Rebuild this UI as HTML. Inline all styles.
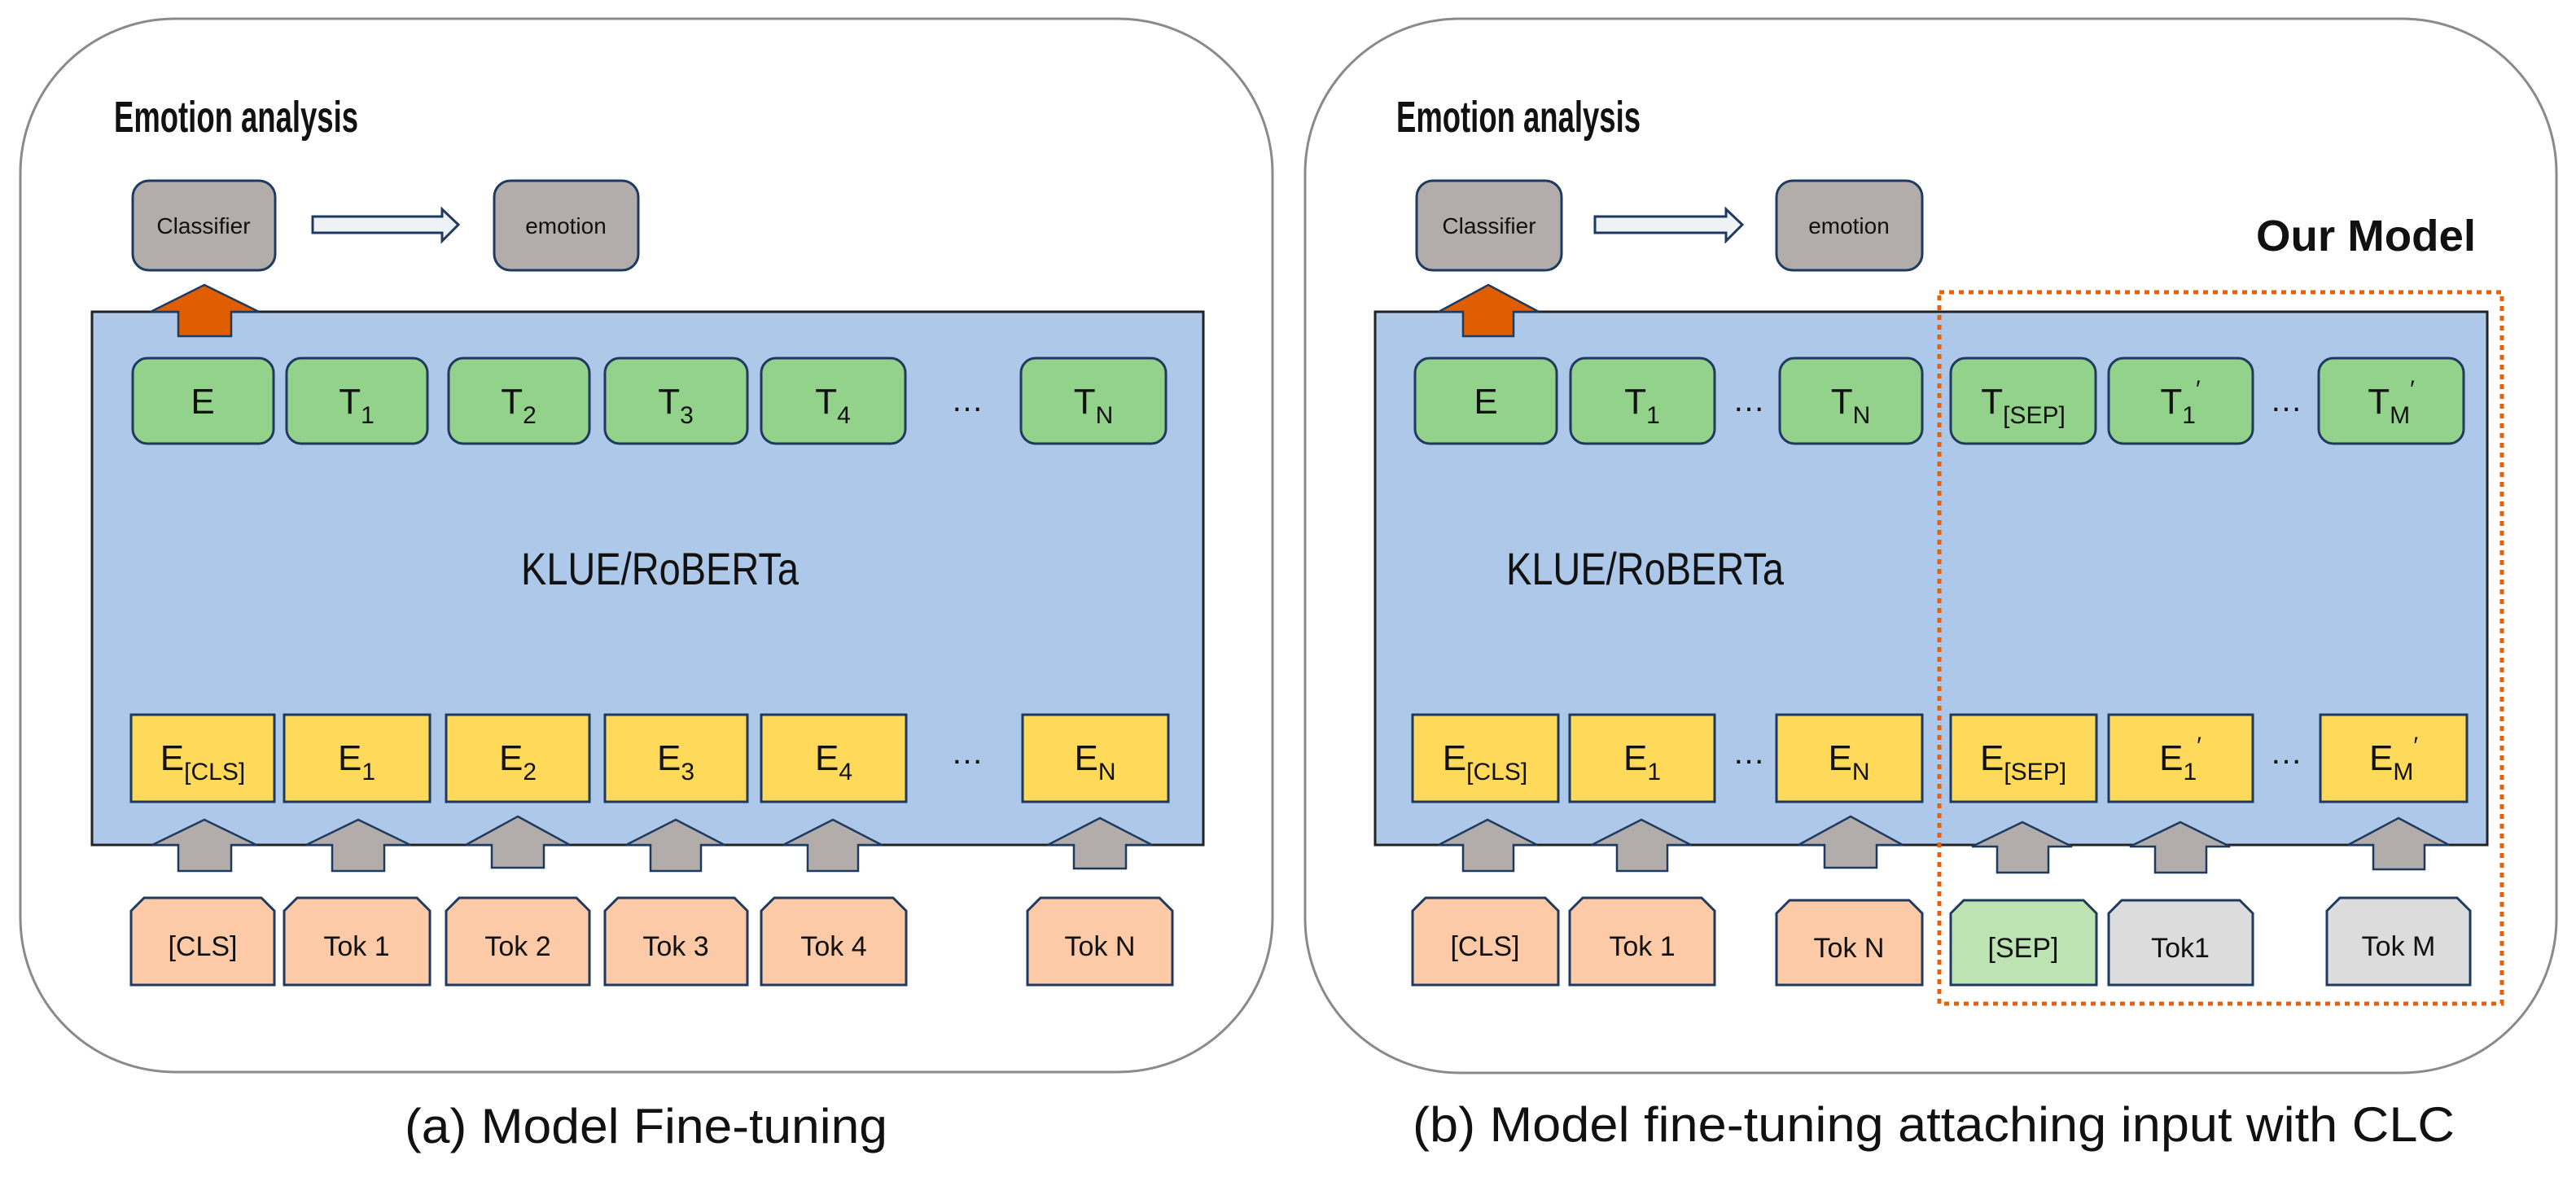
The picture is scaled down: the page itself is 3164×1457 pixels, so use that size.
<!DOCTYPE html>
<html><head><meta charset="utf-8"><style>
html,body{margin:0;padding:0;background:#fff;}
svg{display:block;}
text{font-family:"Liberation Sans Narrow","Liberation Sans",sans-serif;fill:#111;}
</style></head><body>
<svg width="3164" height="1457" viewBox="0 0 3164 1457" xmlns="http://www.w3.org/2000/svg">
<rect x="25" y="23" width="1538" height="1294" rx="190" fill="#fff" stroke="#8a8a8a" stroke-width="3"/>
<rect x="1603" y="23" width="1537" height="1295" rx="190" fill="#fff" stroke="#8a8a8a" stroke-width="3"/>

<text x="140" y="162" font-size="54" font-weight="bold" textLength="300" lengthAdjust="spacingAndGlyphs">Emotion analysis</text>
<text x="1715" y="162" font-size="54" font-weight="bold" textLength="300" lengthAdjust="spacingAndGlyphs">Emotion analysis</text>
<text x="2771" y="308" font-size="54" font-weight="bold" textLength="270" lengthAdjust="spacingAndGlyphs">Our Model</text>

<g stroke="#1f3a5f" stroke-width="3" fill="#b2adab">
<rect x="163" y="222" width="175" height="110" rx="20"/>
<rect x="607" y="222" width="177" height="110" rx="20"/>
<rect x="1740" y="222" width="178" height="110" rx="20"/>
<rect x="2182" y="222" width="179" height="110" rx="20"/>
</g>
<g font-size="28" text-anchor="middle">
<text x="250" y="287">Classifier</text>
<text x="695" y="287">emotion</text>
<text x="1829" y="287">Classifier</text>
<text x="2271" y="287">emotion</text>
</g>
<g fill="#eef1f5" stroke="#1f3a5f" stroke-width="3">
<path d="M384,266 H543 V257 L563,276 L543,296 V286 H384 Z"/>
<path d="M1959,266 H2120 V257 L2140,276 L2120,296 V286 H1959 Z"/>
</g>

<rect x="113" y="383" width="1365" height="655" fill="#adc8e9" stroke="#222" stroke-width="3"/>
<rect x="1689" y="383" width="1366" height="655" fill="#adc8e9" stroke="#222" stroke-width="3"/>

<g fill="#e05e00" stroke="#1f3a5f" stroke-width="2.5">
<path d="M251,350 L318,383 L284,383 L284,413 L219,413 L219,383 L185,383 Z"/>
<path d="M1828,350 L1890,383 L1859,383 L1859,413 L1797,413 L1797,383 L1767,383 Z"/>
</g>

<text x="640" y="718" font-size="56" textLength="341" lengthAdjust="spacingAndGlyphs">KLUE/RoBERTa</text>
<text x="1850" y="718" font-size="56" textLength="341" lengthAdjust="spacingAndGlyphs">KLUE/RoBERTa</text>

<g fill="#93d28a" stroke="#1f3a5f" stroke-width="3">
<rect x="163" y="440" width="173" height="105" rx="18"/>
<rect x="352" y="440" width="173" height="105" rx="18"/>
<rect x="551" y="440" width="173" height="105" rx="18"/>
<rect x="743" y="440" width="175" height="105" rx="18"/>
<rect x="935" y="440" width="177" height="105" rx="18"/>
<rect x="1254" y="440" width="178" height="105" rx="18"/>
<rect x="1738" y="440" width="174" height="105" rx="18"/>
<rect x="1929" y="440" width="177" height="105" rx="18"/>
<rect x="2186" y="440" width="175" height="105" rx="18"/>
<rect x="2396" y="440" width="178" height="105" rx="18"/>
<rect x="2590" y="440" width="177" height="105" rx="18"/>
<rect x="2848" y="440" width="178" height="105" rx="18"/>
</g>
<g font-size="44" text-anchor="middle">
<text x="249" y="508">E</text>
<text x="438" y="508">T<tspan font-size="30" dy="12">1</tspan></text>
<text x="637" y="508">T<tspan font-size="30" dy="12">2</tspan></text>
<text x="830" y="508">T<tspan font-size="30" dy="12">3</tspan></text>
<text x="1023" y="508">T<tspan font-size="30" dy="12">4</tspan></text>
<text x="1343" y="508">T<tspan font-size="30" dy="12">N</tspan></text>
<text x="1825" y="508">E</text>
<text x="2017" y="508">T<tspan font-size="30" dy="12">1</tspan></text>
<text x="2273" y="508">T<tspan font-size="30" dy="12">N</tspan></text>
<text x="2485" y="508">T<tspan font-size="30" dy="12">[SEP]</tspan></text>
<text x="2678" y="508">T<tspan font-size="30" dy="12">1</tspan><tspan font-size="30" dy="-32">′</tspan></text>
<text x="2937" y="508">T<tspan font-size="30" dy="12">M</tspan><tspan font-size="30" dy="-32">′</tspan></text>
</g>

<g fill="#ffd95a" stroke="#1f3a5f" stroke-width="3">
<rect x="161" y="878" width="176" height="107"/>
<rect x="349" y="878" width="179" height="107"/>
<rect x="548" y="878" width="176" height="107"/>
<rect x="743" y="878" width="175" height="107"/>
<rect x="935" y="878" width="178" height="107"/>
<rect x="1256" y="878" width="179" height="107"/>
<rect x="1735" y="878" width="179" height="107"/>
<rect x="1928" y="878" width="178" height="107"/>
<rect x="2182" y="878" width="179" height="107"/>
<rect x="2396" y="878" width="179" height="107"/>
<rect x="2590" y="878" width="177" height="107"/>
<rect x="2850" y="878" width="180" height="107"/>
</g>
<g font-size="44" text-anchor="middle">
<text x="249" y="946">E<tspan font-size="30" dy="12">[CLS]</tspan></text>
<text x="438" y="946">E<tspan font-size="30" dy="12">1</tspan></text>
<text x="636" y="946">E<tspan font-size="30" dy="12">2</tspan></text>
<text x="830" y="946">E<tspan font-size="30" dy="12">3</tspan></text>
<text x="1024" y="946">E<tspan font-size="30" dy="12">4</tspan></text>
<text x="1345" y="946">E<tspan font-size="30" dy="12">N</tspan></text>
<text x="1824" y="946">E<tspan font-size="30" dy="12">[CLS]</tspan></text>
<text x="2017" y="946">E<tspan font-size="30" dy="12">1</tspan></text>
<text x="2271" y="946">E<tspan font-size="30" dy="12">N</tspan></text>
<text x="2485" y="946">E<tspan font-size="30" dy="12">[SEP]</tspan></text>
<text x="2678" y="946">E<tspan font-size="30" dy="12">1</tspan><tspan font-size="30" dy="-32">′</tspan></text>
<text x="2940" y="946">E<tspan font-size="30" dy="12">M</tspan><tspan font-size="30" dy="-32">′</tspan></text>
</g>

<g font-size="40" text-anchor="middle">
<text x="1188" y="505">…</text>
<text x="1188" y="938">…</text>
<text x="2148" y="505">…</text>
<text x="2148" y="938">…</text>
<text x="2808" y="505">…</text>
<text x="2808" y="938">…</text>
</g>

<g fill="#b2adab" stroke="#1f3a5f" stroke-width="2.5">
<path d="M251,1007 L315,1038 L284,1038 L284,1070 L219,1070 L219,1038 L187,1038 Z"/>
<path d="M440,1007 L504,1038 L472,1038 L472,1070 L408,1070 L408,1038 L376,1038 Z"/>
<path d="M636,1003 L700,1038 L668,1038 L668,1066 L604,1066 L604,1038 L572,1038 Z"/>
<path d="M830,1007 L890,1038 L861,1038 L861,1070 L799,1070 L799,1038 L769,1038 Z"/>
<path d="M1023,1007 L1083,1038 L1054,1038 L1054,1070 L992,1070 L992,1038 L962,1038 Z"/>
<path d="M1351,1005 L1415,1038 L1383,1038 L1383,1067 L1319,1067 L1319,1038 L1287,1038 Z"/>
<path d="M1827,1007 L1888,1038 L1859,1038 L1859,1070 L1797,1070 L1797,1038 L1767,1038 Z"/>
<path d="M2016,1007 L2077,1038 L2048,1038 L2048,1070 L1986,1070 L1986,1038 L1955,1038 Z"/>
<path d="M2273,1003 L2337,1038 L2305,1038 L2305,1066 L2241,1066 L2241,1038 L2209,1038 Z"/>
<path d="M2484,1010 L2545,1040 L2516,1040 L2516,1072 L2453,1072 L2453,1040 L2422,1040 Z"/>
<path d="M2678,1010 L2739,1040 L2710,1040 L2710,1072 L2647,1072 L2647,1040 L2616,1040 Z"/>
<path d="M2946,1005 L3008,1038 L2978,1038 L2978,1068 L2915,1068 L2915,1038 L2884,1038 Z"/>
</g>

<g stroke="#1f3a5f" stroke-width="3" fill="#fdcaa8">
<path d="M161,1119 L177,1103 L321,1103 L337,1119 L337,1210 L161,1210 Z"/>
<path d="M349,1119 L365,1103 L512,1103 L528,1119 L528,1210 L349,1210 Z"/>
<path d="M548,1119 L564,1103 L708,1103 L724,1119 L724,1210 L548,1210 Z"/>
<path d="M743,1119 L759,1103 L902,1103 L918,1119 L918,1210 L743,1210 Z"/>
<path d="M935,1119 L951,1103 L1097,1103 L1113,1119 L1113,1210 L935,1210 Z"/>
<path d="M1262,1119 L1278,1103 L1424,1103 L1440,1119 L1440,1210 L1262,1210 Z"/>
<path d="M1735,1119 L1751,1103 L1898,1103 L1914,1119 L1914,1210 L1735,1210 Z"/>
<path d="M1928,1119 L1944,1103 L2090,1103 L2106,1119 L2106,1210 L1928,1210 Z"/>
<path d="M2182,1122 L2198,1106 L2345,1106 L2361,1122 L2361,1210 L2182,1210 Z"/>
<path fill="#bde3b2" d="M2396,1122 L2412,1106 L2559,1106 L2575,1122 L2575,1210 L2396,1210 Z"/>
<path fill="#dcdcdc" d="M2590,1122 L2606,1106 L2751,1106 L2767,1122 L2767,1210 L2590,1210 Z"/>
<path fill="#dcdcdc" d="M2858,1119 L2874,1103 L3018,1103 L3034,1119 L3034,1210 L2858,1210 Z"/>
</g>
<g font-size="34" text-anchor="middle">
<text x="249" y="1174">[CLS]</text>
<text x="438" y="1174">Tok 1</text>
<text x="636" y="1174">Tok 2</text>
<text x="830" y="1174">Tok 3</text>
<text x="1024" y="1174">Tok 4</text>
<text x="1351" y="1174">Tok N</text>
<text x="1824" y="1174">[CLS]</text>
<text x="2017" y="1174">Tok 1</text>
<text x="2271" y="1176">Tok N</text>
<text x="2485" y="1176">[SEP]</text>
<text x="2678" y="1176">Tok1</text>
<text x="2946" y="1174">Tok M</text>
</g>

<rect x="2382" y="359" width="691" height="874" fill="none" stroke="#e8600a" stroke-width="5" stroke-dasharray="6 6"/>

<text x="497" y="1404" font-size="60" textLength="593" lengthAdjust="spacingAndGlyphs">(a) Model Fine-tuning</text>
<text x="1735" y="1402" font-size="60" textLength="1280" lengthAdjust="spacingAndGlyphs">(b) Model fine-tuning attaching input with CLC</text>
</svg>
</body></html>
